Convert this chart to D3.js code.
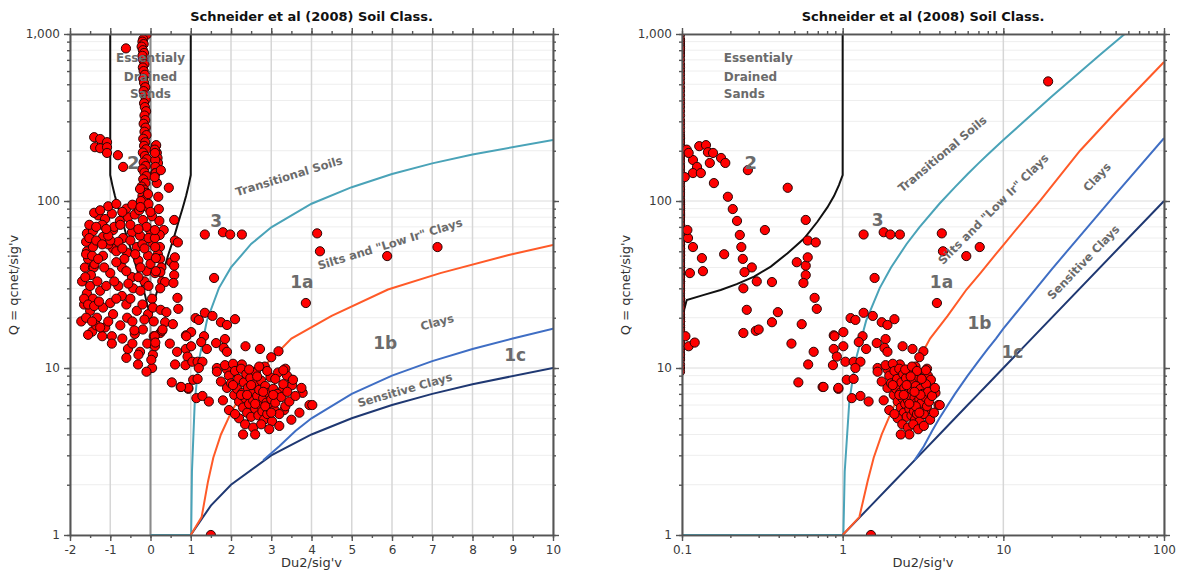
<!DOCTYPE html>
<meta charset="utf-8">
<script src="https://d3js.org/d3.v7.min.js"></script>
<style>
  body { margin: 0; background: #fff; }
  text { font-family: "DejaVu Sans", sans-serif; }
</style>
<body>
<div id="charts"></div>
<script>

// ---- data : [Du2/sig'v, Q] ----

// narrow column of drained-sand points just left of zero
var columnPts = [
  [-0.10,990],[-0.18,930],[-0.20,900],[-0.17,870],[-0.22,840],[-0.19,800],[-0.16,770],[-0.20,740],
  [-0.18,700],[-0.15,660],[-0.19,630],[-0.17,600],[-0.14,570],[-0.18,540],[-0.16,510],[-0.13,480],
  [-0.17,455],[-0.15,430],[-0.12,405],[-0.16,385],[-0.14,365],[-0.11,345],[-0.15,325],[-0.13,305],
  [-0.17,290],[-0.12,275],[-0.15,260],[-0.10,248],[-0.18,236],[-0.13,225],[-0.16,214],[-0.11,204],
  [-0.19,195],[-0.14,186],[-0.09,178],[-0.17,170],[-0.12,162],[-0.20,155],[-0.15,148],[-0.10,141],
  [-0.18,135],[-0.13,128],[-0.22,122],[-0.16,117],[-0.11,112],[-0.20,107],[-0.14,102],[-0.25,98],
  [-0.18,95],[-0.08,92],[-0.30,90]
];

var upperLeftPts = [
  [-1.40,241],[-1.25,235],[-1.08,225],[-1.38,210],[-1.25,207],[-1.08,210],[-1.08,194],[-0.81,188],
  [-0.68,160],[-0.61,820]
];

// big cluster left of zero
var leftCluster = [
  [-1.30,82],[-1.13,78],[-0.96,84],[-0.76,76],[-0.56,80],[-0.39,83],[-0.19,77],[0.04,81],
  [-0.26,118],[-0.06,110],[-0.24,100],[-0.05,96],[-0.28,88],[0.0,86],[-1.05,93],[-0.85,96],[-0.6,90],[-0.45,95],
  [-1.58,64],[-1.43,66],[-1.18,61],[-0.93,67],[-0.68,60],[-0.46,65],[-0.26,62],[0.0,66],
  [-1.58,50],[-1.43,53],[-1.18,47],[-0.93,52],[-0.58,49],[-0.34,53],[-0.06,47],
  [-1.63,40],[-1.43,40],[-1.40,41],[-1.41,40],[-1.39,42],[-1.0,37],[-0.71,40],[-0.46,35],[-0.09,38],
  [-1.55,45],[-1.48,36],[-1.6,57],[-1.52,72],[-0.8,57],[-0.3,44],[-0.65,45],[-1.05,55],[-0.2,55],
  [-0.5,72],[-0.9,70],[-1.2,72],[-0.1,70],[-1.4,85],[-1.0,58],
  [-1.58,28],[-1.43,26],[-1.25,29],[-0.71,27],[-0.43,30],[0.04,26],
  [-1.5,22],[-1.33,20],[-1.18,23],[-0.93,21],[-0.58,20],[-0.34,22],[-0.06,21],
  [-1.45,16.5],[-1.13,17.5],[-0.96,15.5],[-0.39,16],[-0.19,17],[0.08,15.5],
  [-0.96,14],[-0.56,13],[-0.26,12.5],[0.06,12],[-0.31,10.5],[0.04,10],[-0.1,9.5],[0.02,11.2],
  [-1.7,33],[-1.65,24],[-1.72,19],[-1.35,18],[-1.55,15.8],[-1.2,15.5],[-1.0,24.5],[-0.8,31],
  [-0.6,24],[-0.25,29],[-0.15,33],
  [-1.52,60],[-1.35,58],[-1.2,55],[-1.05,62],[-0.85,50],[-0.7,52],[-0.5,58],[-0.38,48],[-0.15,52],[0.05,56],
  [-1.6,48],[-1.45,47],[-1.3,45],[-1.15,40],[-0.85,43],[-0.6,38],[-0.25,40],[0.0,42],
  [-1.62,35],[-1.5,31],[-1.32,33],[-1.1,31],[-0.9,33],[-0.55,32],[-0.3,35],[-0.05,31],
  [-1.65,26],[-1.55,24],[-1.4,23.5],[-1.28,25],[-0.85,26],[-0.5,26],[-0.2,24],[0.06,23],
  [-1.6,20],[-1.45,19],[-1.25,17.5],[-1.05,19],[-0.75,18],[-0.45,19],[-0.15,19.5],[0.08,19],
  [-1.35,70],[-1.1,68],[-0.75,72],[-0.3,68],[-0.05,60],[-1.25,88],[-0.7,86],[-0.25,92],
  [-0.7,15],[-0.45,14],[-0.08,14],[-0.6,11.5],[-0.3,12],[-0.4,16.8]
];

// points between 0.1 and 1
var sandSiltPts = [
  [0.128,213],[0.141,216],[0.145,196],[0.156,194],[0.149,169],[0.175,181],[0.186,169],[0.117,176],
  [0.124,160],[0.117,147],[0.131,147],[0.257,153],[0.158,128],[0.455,120],[0.193,106],[0.107,203],
  [0.11,194],[0.104,139],[0.207,89.5],[0.22,76],[0.328,67],[0.229,62.6],[0.234,53],[0.183,48],
  [0.239,45],[0.272,40],[0.245,37.5],[0.292,33],[0.363,32.7],[0.241,30],[0.589,77],[0.606,58],
  [0.68,56.5],[0.518,43],[0.589,41],[0.606,46],[0.589,36],[0.57,32.3],[0.669,26.3],[0.69,22.6],
  [0.253,22.3],[0.395,21.6],[0.363,18.8],[0.556,18.3],[0.241,16.2],[0.288,16.7],[0.3,17],
  [0.112,37],[0.109,60],[0.117,53],[0.133,45.5],[0.135,38],[0.108,67],[0.88,15.7],
  [0.105,15.5],[0.11,13.5],[0.12,14.2],[0.53,8.2],[0.75,7.7],[0.94,7.5],[0.48,14],[0.66,12.5],
  [0.61,10.5],[0.88,13]
];

// clay cloud between 1 and 4
var midCloud = [
  [1.12,19.9],[1.2,19.4],[1.35,21.4],[1.54,20.5],[1.75,18.8],[1.9,18.1],[2.1,19.6],[1.01,16.4],
  [0.89,15.5],[1.33,15.5],[1.26,14.3],[1.85,14.9],[1.63,14.1],[1.82,13.2],[1.01,13.5],[0.92,11.7],
  [0.87,10.4],[1.04,10.9],[1.17,10.9],[1.29,10.9],[1.2,10],[0.94,7.6],[0.76,7.7],[1.14,6.6],
  [1.29,6.8],[1.45,6.3],[1.06,8.5],[1.17,8.6],[2.36,13.5],[2.72,13],[3.18,12.6],[3.0,11.6],
  [3.35,9.9],[3.78,7.1],[3.95,6.0],[3.51,8.5],[4.02,6.0],[3.29,7.4],[3.52,7.9],[3.32,5.6],
  [1.4,13],[1.9,12.5],[1.65,10],[1.9,9.8],[2.27,10.5],[2.55,9.5],[2.84,10.2],[3.17,9.4],[3.39,9.0],[3.54,8.5],
  [1.65,9.5],[1.75,8.3],[1.85,10.4],[1.9,7.6],[1.95,9.0],[2.0,8.1],[2.05,10.6],[2.08,6.9],[2.1,9.6],
  [2.15,7.5],[2.18,8.6],[2.2,6.3],[2.25,9.9],[2.28,7.1],[2.3,5.8],[2.32,8.2],[2.35,6.6],[2.38,9.2],
  [2.4,5.4],[2.42,7.6],[2.45,6.1],[2.48,8.7],[2.5,5.1],[2.52,7.0],[2.55,6.4],[2.58,8.0],[2.6,5.7],
  [2.62,9.4],[2.65,6.8],[2.68,5.2],[2.7,7.4],[2.72,6.0],[2.75,8.4],[2.78,5.5],[2.8,6.6],[2.82,4.9],
  [2.85,7.8],[2.88,6.2],[2.9,5.3],[2.92,7.1],[2.95,5.8],[2.98,8.8],[3.0,6.5],[3.02,4.8],[3.05,7.5],
  [3.08,5.6],[3.1,6.2],[3.15,7.0],[3.2,5.3],[3.25,6.7],[3.3,8.0],[3.35,5.9],[3.4,7.2],[3.45,6.3],
  [3.5,4.9],[2.2,5.0],[2.35,4.6],[2.55,4.4],[2.75,4.6],[2.95,4.3],[2.45,9.8],[2.7,10.2],[2.9,9.6],
  [3.1,8.6],[3.3,9.7],[1.8,6.4],[1.95,5.6],[2.1,5.3],[2.6,4.0],[3.6,6.8],[3.7,5.4],[3.75,7.6],
  [3.2,4.5],[2.05,7.9],[2.25,6.9],[2.5,7.9],[2.65,8.9],[2.85,5.9],[3.05,6.9],[2.4,6.9],[2.6,6.1],
  [2.8,7.2],[3.0,5.4]
];

// isolated points
var scatterPts = [
  [1.35,63],[1.80,65],[1.98,63],[2.27,63],[4.14,64],[4.21,50],[3.86,24.5],[1.58,34.6],
  [5.88,46.8],[7.13,53],[1.5,1.0],[2.3,4.0],[19,520]
];

// zone boundaries
var transitionalLine = [[0,1],[0.1,1],[1,1],[1.01,1],[1.03,2.4],[1.1,6.3],[1.2,11],[1.4,19.2],[1.7,30.1],
  [2,40],[2.5,55.3],[3,69.6],[4,96.3],[5,121],[6,145],[7,168],[8,190],[10,232],[20,422],[40,750],[60,1044]];
var siltLine = [[1,1],[1.27,1.28],[1.43,2.1],[1.56,2.9],[1.75,4.0],[2,5.4],[2.4,8],[2.8,10.1],[3.5,15],
  [4.5,20.5],[5.9,29.5],[7.2,37],[8.9,47.5],[10,54.5],[17,101],[30,200],[50,340],[100,680]];
var clayLine = [[2.8,2.8],[3.2,3.4],[3.6,4.2],[4,5.0],[5,7.0],[6,9.0],[7,11.0],[8,13.0],[9,15],[10,17.2],
  [20,39],[50,110],[100,238]];
var sensitiveLine = [[1,1],[1.5,1.5],[2,2],[3,3],[4,4],[5,5],[6,6],[7,7],[8,8],[10,10],[100,100]];
var drainedLine = [[-1,1000],[-1,143],[-0.948,124.5],[-0.883,107],[-0.803,91.5],[-0.696,75.1],[-0.575,59.6],
  [-0.454,48.7],[-0.357,40.5],[-0.281,35.2],[-0.219,31.8],[-0.174,29.3],[-0.137,27.4],[-0.107,25.5],[0,20],
  [0.107,25.5],[0.137,27.4],[0.174,29.3],[0.219,31.8],[0.281,35.2],[0.357,40.5],[0.454,48.7],[0.575,59.6],
  [0.696,75.1],[0.803,91.5],[0.883,107],[0.948,124.5],[1,143],[1,1000]];

var yMajor = [1, 10, 100, 1000];
var xMajorLin = [-2,-1,0,1,2,3,4,5,6,7,8,9,10];
var xMajorLog = [0.1, 1, 10, 100];

var allPoints = [].concat(columnPts, upperLeftPts, leftCluster, sandSiltPts, midCloud, scatterPts);

var width = 1177, height = 572;
var svg = d3.select("#charts").append("svg")
  .attr("width", width).attr("height", height);

var plotTop = 34, plotBottom = 535;

function drawChart(id, x, y, xMajor, xMinor, xFmt, clampX, labels) {
  var g = svg.append("g");
  var x0 = x.range()[0], x1 = x.range()[1];
  var xMin = x.domain()[0];
  // lines clamp onto the left edge, points sit just past it
  var lx = function(v) { return x(clampX ? Math.max(v, xMin) : v); };
  var px = function(v) { return (clampX && v <= xMin) ? x0 - 2 : x(v); };

  g.append("clipPath").attr("id", id)
    .append("rect").attr("x", x0).attr("y", plotTop).attr("width", x1 - x0).attr("height", plotBottom - plotTop);

  // grid
  g.selectAll(".hgrid").data(y.ticks()).enter().append("line")
    .attr("x1", x0).attr("x2", x1).attr("y1", y).attr("y2", y)
    .attr("stroke", function(d) { return yMajor.indexOf(d) >= 0 ? "#dcdcdc" : "#eeeeee"; })
    .attr("stroke-width", 1);
  g.selectAll(".vgrid").data(xMajor).enter().append("line")
    .attr("x1", x).attr("x2", x).attr("y1", plotTop).attr("y2", plotBottom)
    .attr("stroke", "#d6d6d6").attr("stroke-width", 1.5);
  if (!clampX) {
    g.append("line").attr("x1", x(0)).attr("x2", x(0)).attr("y1", plotTop).attr("y2", plotBottom)
      .attr("stroke", "#8a8a8a").attr("stroke-width", 2);
  }

  // boundary lines
  var line = d3.line().x(function(d) { return lx(d[0]); }).y(function(d) { return y(d[1]); });
  var plot = g.append("g").attr("clip-path", "url(#" + id + ")");
  [[drainedLine, "#111111"], [transitionalLine, "#4aa3b8"], [sensitiveLine, "#1f3872"],
   [clayLine, "#3f6ec4"], [siltLine, "#ff5a28"]].forEach(function(l) {
    plot.append("path").datum(l[0]).attr("d", line)
      .attr("fill", "none").attr("stroke", l[1]).attr("stroke-width", 2);
  });

  // points
  plot.selectAll("circle").data(allPoints).enter().append("circle")
    .attr("cx", function(d) { return px(d[0]); })
    .attr("cy", function(d) { return y(d[1]); })
    .attr("r", 4.6)
    .attr("fill", "#ff0000").attr("stroke", "#2a0505").attr("stroke-width", 1);

  // zone labels
  labels.forEach(function(t) {
    g.append("text")
      .attr("transform", "translate(" + lx(t.u) + "," + y(t.q) + ")rotate(" + (t.rot || 0) + ")")
      .attr("text-anchor", t.anchor || "middle")
      .attr("dominant-baseline", "central")
      .attr("font-size", t.size).attr("font-weight", "bold")
      .attr("fill", t.color || "#6b6b6b")
      .text(t.text);
  });

  // axes on all four sides
  var ax = [
    [d3.axisBottom(x).tickValues(xMajor).tickSize(6).tickFormat(xFmt), "translate(0," + plotBottom + ")"],
    [d3.axisBottom(x).tickValues(xMinor).tickSize(3).tickFormat(""), "translate(0," + plotBottom + ")"],
    [d3.axisTop(x).tickValues(xMajor).tickSize(6).tickFormat(""), "translate(0," + plotTop + ")"],
    [d3.axisTop(x).tickValues(xMinor).tickSize(3).tickFormat(""), "translate(0," + plotTop + ")"],
    [d3.axisLeft(y).tickValues(yMajor).tickSize(6).tickFormat(d3.format(",")), "translate(" + x0 + ",0)"],
    [d3.axisLeft(y).tickValues(y.ticks()).tickSize(3).tickFormat(""), "translate(" + x0 + ",0)"],
    [d3.axisRight(y).tickValues(yMajor).tickSize(6).tickFormat(""), "translate(" + x1 + ",0)"],
    [d3.axisRight(y).tickValues(y.ticks()).tickSize(3).tickFormat(""), "translate(" + x1 + ",0)"]
  ];
  ax.forEach(function(a) {
    var ag = g.append("g").attr("transform", a[1]).call(a[0].tickSizeOuter(0).tickPadding(4));
    ag.select(".domain").attr("stroke", "#555").attr("stroke-width", 1.6);
    ag.selectAll(".tick line").attr("stroke", "#555").attr("stroke-width", 1.4);
    ag.selectAll("text").attr("font-size", 12).attr("fill", "#3a3a3a")
      .attr("font-family", "DejaVu Sans, sans-serif");
  });

  // titles
  var mid = (x0 + x1) / 2;
  g.append("text").attr("x", mid).attr("y", 21).attr("text-anchor", "middle")
    .attr("font-size", 13).attr("font-weight", "bold").attr("fill", "#111")
    .text("Schneider et al (2008) Soil Class.");
  g.append("text").attr("x", mid).attr("y", 567).attr("text-anchor", "middle")
    .attr("font-size", 13).attr("fill", "#333").text("Du2/sig'v");
  g.append("text").attr("transform", "translate(" + (x0 - 52) + "," + 285 + ")rotate(-90)")
    .attr("text-anchor", "middle").attr("font-size", 13).attr("fill", "#333")
    .text("Q = qcnet/sig'v");
}

// left chart : linear Du2/sig'v
var xLin = d3.scaleLinear().domain([-2, 10]).range([70, 553]);
var yLeft = d3.scaleLog().domain([1, 1000]).range([plotBottom, plotTop]);
drawChart("clipL", xLin, yLeft, xMajorLin, d3.range(-2, 10.01, 0.5), function(d) { return String(d); }, false, [
  {u: 0, q: 718, text: "Essentialy", size: 12},
  {u: 0, q: 556, text: "Drained", size: 12},
  {u: 0, q: 438, text: "Sands", size: 12},
  {u: -0.43, q: 169, text: "2", size: 18},
  {u: 1.63, q: 76, text: "3", size: 17},
  {u: 3.76, q: 32.6, text: "1a", size: 17},
  {u: 5.83, q: 14.1, text: "1b", size: 17},
  {u: 9.06, q: 11.96, text: "1c", size: 17},
  {u: 3.44, q: 141, text: "Transitional Soils", size: 11.5, rot: -17},
  {u: 5.95, q: 55.3, text: "Silts and \"Low Ir\" Clays", size: 11.5, rot: -17},
  {u: 7.12, q: 18.8, text: "Clays", size: 11.5, rot: -15},
  {u: 6.32, q: 7.4, text: "Sensitive Clays", size: 11.5, rot: -16}
]);

// right chart : log Du2/sig'v
var xLog = d3.scaleLog().domain([0.1, 100]).range([682, 1164]);
var yRight = d3.scaleLog().domain([1, 1000]).range([plotBottom, plotTop]);
drawChart("clipR", xLog, yRight, xMajorLog, xLog.ticks(), function(d) { return String(d); }, true, [
  {u: 0.182, q: 718, text: "Essentialy", size: 12, anchor: "start"},
  {u: 0.182, q: 556, text: "Drained", size: 12, anchor: "start"},
  {u: 0.182, q: 438, text: "Sands", size: 12, anchor: "start"},
  {u: 0.268, q: 170, text: "2", size: 18},
  {u: 1.65, q: 77, text: "3", size: 17},
  {u: 4.12, q: 32.6, text: "1a", size: 17},
  {u: 7.1, q: 18.6, text: "1b", size: 17},
  {u: 11.4, q: 12.5, text: "1c", size: 17},
  {u: 4.17, q: 191, text: "Transitional Soils", size: 11.5, rot: -40},
  {u: 8.67, q: 89.5, text: "Silts and \"Low Ir\" Clays", size: 11.5, rot: -45},
  {u: 38.3, q: 139, text: "Clays", size: 11.5, rot: -47},
  {u: 31.5, q: 43, text: "Sensitive Clays", size: 11.5, rot: -46}
]);

</script>
</body>
